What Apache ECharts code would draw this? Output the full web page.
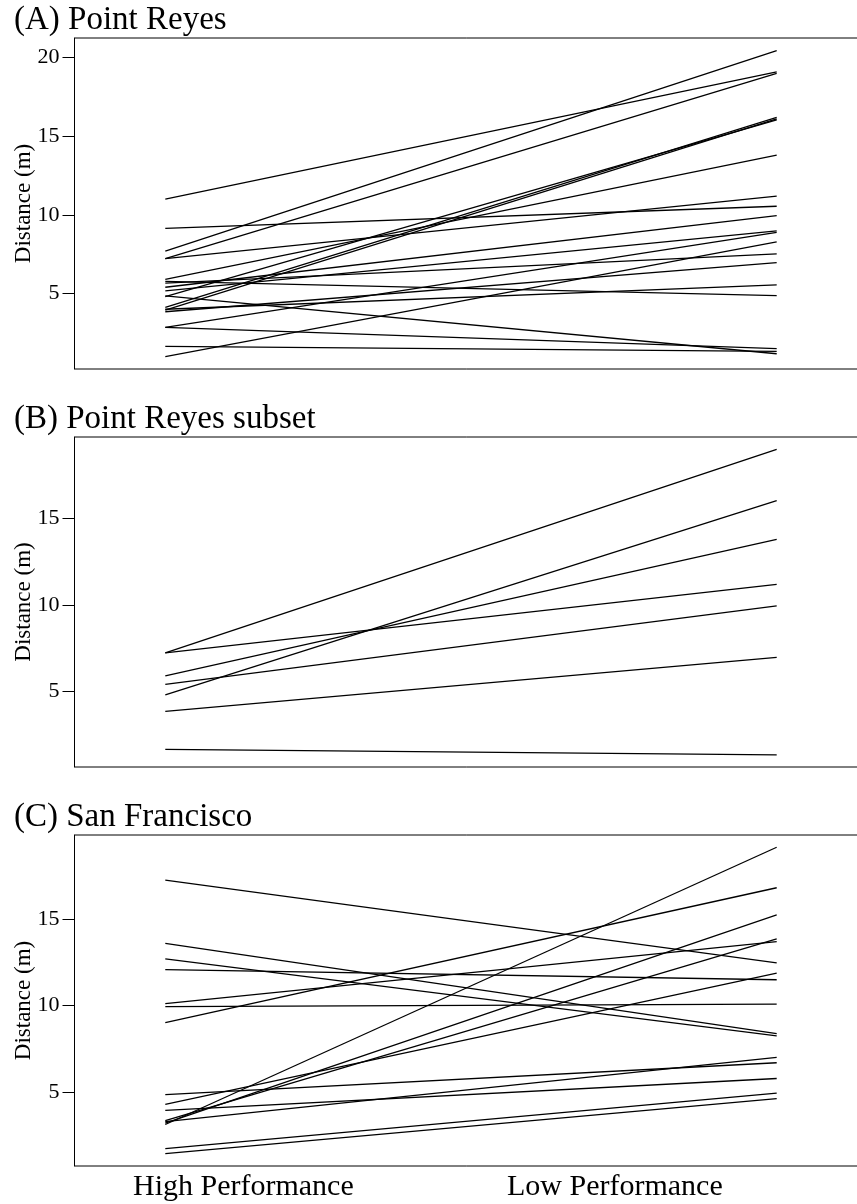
<!DOCTYPE html>
<html>
<head>
<meta charset="utf-8">
<script src="https://cdn.jsdelivr.net/npm/echarts@6.0.0/dist/echarts.min.js"></script>
<style>
  html, body { margin: 0; padding: 0; background: #fff; }
  #chart { width: 857px; height: 1204px; }
</style>
</head>
<body>
<div id="chart"></div>
<script>
// conditions on the x axis (1 = high, 2 = low)
const conditions = ['High Performance', 'Low Performance'];
const panelTitles = ['(A) Point Reyes', '(B) Point Reyes subset', '(C) San Francisco'];

// (A) Point Reyes - one entry per individual
const aHigh = [11.0, 9.14, 7.70, 7.22, 7.22, 5.9, 5.77, 5.66, 5.4, 5.17, 4.85, 4.8, 4.12, 4.0, 3.95, 3.84, 2.85, 2.85, 1.64, 0.99];
const aLow = [19.1, 10.55, 20.45, 19.0, 11.19, 13.8, 4.87, 7.52, 9.95, 8.99, 1.17, 16.04, 16.2, 5.55, 16.1, 6.96, 8.89, 1.49, 1.32, 8.29];

// (B) Point Reyes subset
const bHigh = [7.22, 7.22, 5.9, 5.4, 4.8, 3.84, 1.64];
const bLow = [19.0, 11.19, 13.8, 9.95, 16.04, 6.96, 1.32];

// (C) San Francisco
const cHigh = [17.25, 13.59, 12.70, 12.08, 10.11, 9.94, 9.01, 4.85, 4.29, 3.94, 3.12, 3.2, 3.35, 3.28, 1.72, 1.43];
const cLow = [12.47, 8.37, 8.24, 11.49, 13.69, 10.08, 16.81, 6.69, 11.87, 5.78, 19.15, 15.24, 13.85, 7.0, 4.93, 4.62];

// y tick labels per panel
const aTicks = [5, 10, 15, 20];
const bTicks = [5, 10, 15];
const cTicks = [5, 10, 15];

const FONT = '"Liberation Serif", "DejaVu Serif", serif';

const panels = [
  { high: aHigh, low: aLow, ticks: aTicks, min: 0.2, max: 21.25, top: 38, height: 331 },
  { high: bHigh, low: bLow, ticks: bTicks, min: 0.62, max: 19.72, top: 437, height: 330 },
  { high: cHigh, low: cLow, ticks: cTicks, min: 0.72, max: 19.86, top: 835, height: 331 }
];

const chart = echarts.init(document.getElementById('chart'), null, { renderer: 'canvas' });

const grids = [];
const xAxes = [];
const yAxes = [];
const titles = [];
const series = [];

panels.forEach((p, i) => {
  grids.push({
    left: 74.5,
    right: -10, // right border falls outside the picture, like the original
    top: p.top,
    height: p.height,
    containLabel: false,
    outerBoundsMode: 'none',
    show: true,
    borderColor: '#000',
    borderWidth: 1,
    backgroundColor: 'transparent'
  });
  xAxes.push({
    gridIndex: i,
    type: 'value',
    min: 0.8515,
    max: 2.1477,
    show: false
  });
  yAxes.push({
    gridIndex: i,
    type: 'value',
    min: p.min,
    max: p.max,
    axisLine: { show: true, lineStyle: { color: '#000', width: 1 } },
    axisTick: { show: true, length: 12, customValues: p.ticks, lineStyle: { color: '#000', width: 1 } },
    axisLabel: { customValues: p.ticks, margin: 15, color: '#000', fontFamily: FONT, fontSize: 22 },
    splitLine: { show: false },
    name: 'Distance (m)',
    nameLocation: 'middle',
    nameGap: 39,
    nameMoveOverlap: false,
    nameTextStyle: { color: '#000', fontFamily: FONT, fontSize: 23 }
  });
  titles.push({
    text: panelTitles[i],
    left: 14,
    top: p.top - 34,
    padding: 0,
    textStyle: { color: '#000', fontFamily: FONT, fontSize: 33, fontWeight: 'normal' }
  });
  p.high.forEach((h, k) => {
    series.push({
      type: 'line',
      xAxisIndex: i,
      yAxisIndex: i,
      data: [[1, h], [2, p.low[k]]],
      showSymbol: false,
      silent: true,
      lineStyle: { color: '#000', width: 1.3 }
    });
  });
});

const options = {
  animation: false,
  backgroundColor: '#fff',
  title: titles,
  grid: grids,
  xAxis: xAxes,
  yAxis: yAxes,
  series: series,
  graphic: [
    {
      type: 'text',
      left: 133,
      top: 1172,
      style: { text: conditions[0], fill: '#000', font: '30px ' + FONT }
    },
    {
      type: 'text',
      left: 507,
      top: 1172,
      style: { text: conditions[1], fill: '#000', font: '30px ' + FONT }
    }
  ]
};

chart.setOption(options);
</script>
</body>
</html>
